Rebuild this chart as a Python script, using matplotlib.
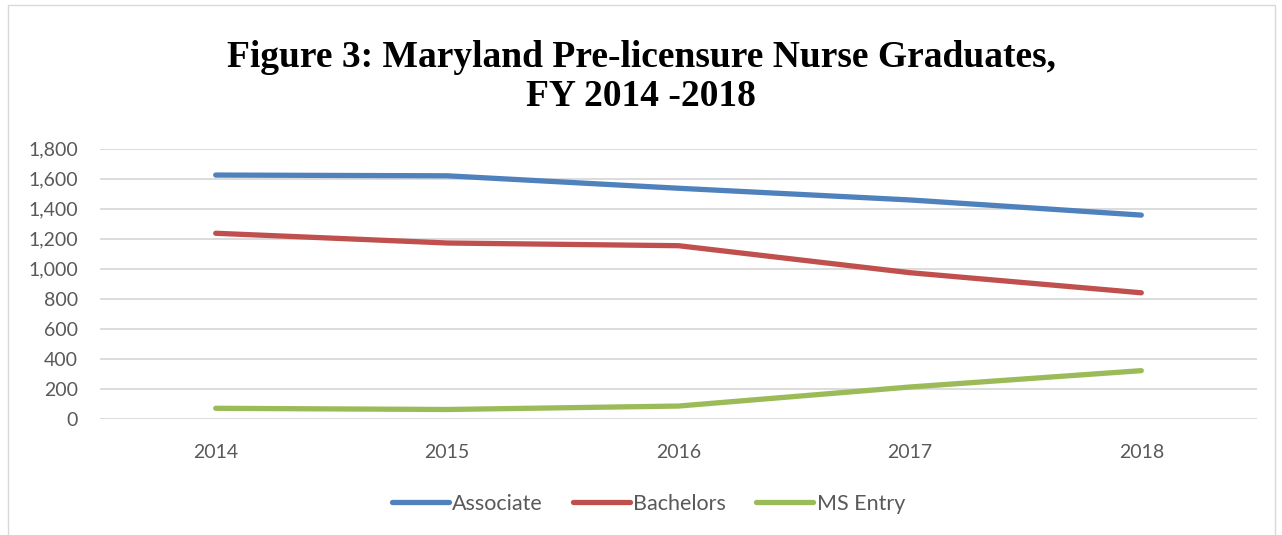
import matplotlib
matplotlib.use('Agg')
import matplotlib.pyplot as plt
from matplotlib.patches import Rectangle
from matplotlib.ticker import FuncFormatter

years = ['2014', '2015', '2016', '2017', '2018']
associate = [1623, 1618, 1535, 1457, 1356]
bachelors = [1235, 1170, 1152, 972, 838]
ms_entry = [68, 60, 83, 210, 319]

fig = plt.figure(figsize=(12.82, 5.35), dpi=100)
ax = fig.add_axes([100 / 1282, 116.5 / 535, 1157 / 1282, 270 / 535])

x = range(len(years))
ax.plot(x, associate, c='#4F81BD', lw=3.8, solid_capstyle='round', solid_joinstyle='round', label='Associate')
ax.plot(x, bachelors, c='#C0504D', lw=3.8, solid_capstyle='round', solid_joinstyle='round', label='Bachelors')
ax.plot(x, ms_entry, c='#9BBB59', lw=3.8, solid_capstyle='round', solid_joinstyle='round', label='MS Entry')

ax.set_xlim(-0.5, len(years) - 0.5)
ax.set_ylim(0, 1800)
ax.set_yticks(range(0, 1801, 200))
ax.yaxis.set_major_formatter(FuncFormatter(lambda v, p: f'{v:,.0f}'))
ax.set_xticks(list(x))
ax.set_xticklabels(years)
ax.grid(axis='y', color='#d9d9d9', lw=1.3)
ax.set_axisbelow(True)
for s in ax.spines.values():
    s.set_visible(False)
ax.tick_params(length=0, labelsize=14, labelcolor='#595959', pad=16)
ax.tick_params(axis='x', pad=18)
for t in ax.get_xticklabels() + ax.get_yticklabels():
    t.set_family('Lato')

fig.text(0.5, 1 - 77 / 535, 'Figure 3: Maryland Pre-licensure Nurse Graduates,\nFY 2014 -2018',
         ha='center', va='center', family='Liberation Serif', weight='bold', fontsize=27,
         linespacing=1.12)

leg = ax.legend(loc='center', bbox_to_anchor=(0.474, -0.315), ncol=3, frameon=False,
                prop={'family': 'Lato', 'size': 15.5}, handlelength=2.65, handletextpad=0.15,
                columnspacing=1.4, labelcolor='#595959')

fig.patches.append(Rectangle((8 / 1282, -0.01), 1267 / 1282, 1 - 5 / 535 + 0.01,
                             transform=fig.transFigure, fill=False, ec='#d9d9d9', lw=1))

fig.savefig('out.png', dpi=100)
